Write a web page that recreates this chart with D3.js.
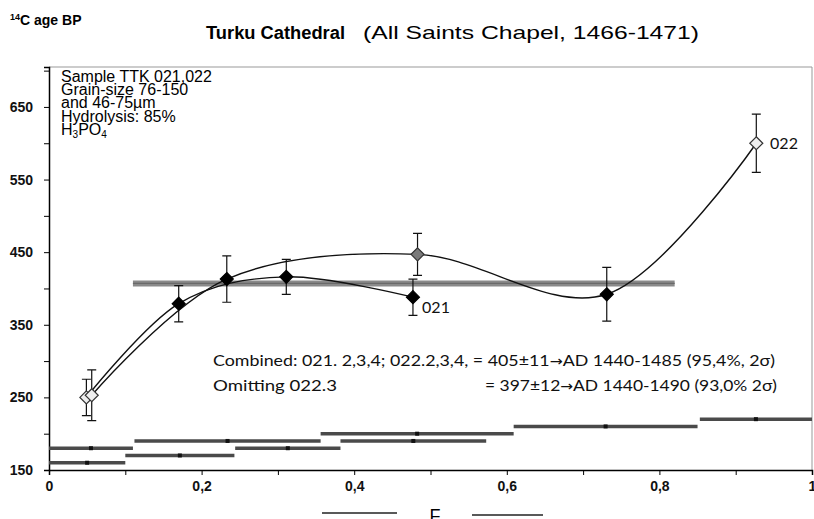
<!DOCTYPE html>
<meta charset="utf-8">
<head>
  <title>Turku Cathedral 14C</title>
  <script type="text/javascript" src="https://d3js.org/d3.v7.min.js"></script>
  <style>
    body { margin: 0; background: #fff; }
    svg { display: block; font-family: "Liberation Sans", Arial, sans-serif; }
    .axis path, .axis line { stroke: #000; }
    .axis text { font-weight: bold; font-size: 14px; fill: #111; }
    .cal { font-family: Lato, "Open Sans", sans-serif; fill: #111; }
  </style>
</head>
<body>
<svg width="814" height="519"></svg>
<script>
// sample 021
var f021 = [0.049, 0.170, 0.311, 0.477];
var age021 = [250, 379, 416, 388];
var err021 = [25, 25, 24, 25];
var fill021 = ["#eee", "#000", "#000", "#000"];
var frac021 = [[0, 0.100], [0.100, 0.243], [0.244, 0.382], [0.382, 0.573]];
var level021 = [160, 170, 180, 190];

// sample 022
var f022 = [0.056, 0.233, 0.483, 0.731, 0.927];
var age022 = [253, 413, 447, 392, 600];
var err022 = [35, 32, 29, 37, 40];
var fill022 = ["#eee", "#000", "#7a7a7a", "#000", "#eee"];
var frac022 = [[0, 0.110], [0.112, 0.356], [0.356, 0.609], [0.609, 0.850], [0.853, 1.0]];
var level022 = [180, 190, 200, 210, 220];

// combined mean line
var combinedAge = 407;
var combinedSpan = [0.11, 0.82];

var yTicks = [150, 200, 250, 300, 350, 400, 450, 500, 550, 600, 650, 700];
var xTicks = [0, 0.1, 0.2, 0.3, 0.4, 0.5, 0.6, 0.7, 0.8, 0.9, 1];
var xTickLabels = ["0", "", "0,2", "", "0,4", "", "0,6", "", "0,8", "", "1"];

var x = d3.scaleLinear().domain([0, 1]).range([49, 812]);
var y = d3.scaleLinear().domain([150, 705]).range([470, 67]);

var svg = d3.select("svg");

// frame (top + right)
svg.append("path")
    .attr("d", "M" + x(0) + "," + y(705) + "H" + x(1) + "V" + y(150))
    .attr("fill", "none").attr("stroke", "#999").attr("stroke-width", 1);

// axes
var yAxis = d3.axisLeft(y).tickValues(yTicks).tickSize(5).tickPadding(11)
    .tickFormat(function(d) { return d % 100 === 50 ? d : ""; });
svg.append("g").attr("class", "axis")
    .attr("transform", "translate(" + x(0) + ",0)")
    .call(yAxis)
    .call(function(g) { g.select(".domain").attr("stroke-width", 1.5); });

var xAxis = d3.axisBottom(x).tickValues(xTicks).tickSize(5).tickPadding(6)
    .tickFormat(function(d, i) { return xTickLabels[i]; });
svg.append("g").attr("class", "axis")
    .attr("transform", "translate(0," + y(150) + ")")
    .call(xAxis)
    .call(function(g) { g.select(".domain").attr("stroke-width", 1.5); });

// combined age band
svg.append("line")
    .attr("x1", x(combinedSpan[0])).attr("x2", x(combinedSpan[1]))
    .attr("y1", y(combinedAge)).attr("y2", y(combinedAge))
    .attr("stroke", "#8a8a8a").attr("stroke-width", 6);
svg.append("line")
    .attr("x1", x(combinedSpan[0])).attr("x2", x(combinedSpan[1]))
    .attr("y1", y(combinedAge)).attr("y2", y(combinedAge))
    .attr("stroke", "#6a6a6a").attr("stroke-width", 1.2);

// fraction bars at the bottom
function fracBars(frac, level) {
  frac.forEach(function(r, i) {
    svg.append("line")
        .attr("x1", x(r[0])).attr("x2", x(r[1]))
        .attr("y1", y(level[i])).attr("y2", y(level[i]))
        .attr("stroke", "#4a4a4a").attr("stroke-width", 3.5);
    svg.append("rect")
        .attr("x", x((r[0] + r[1]) / 2) - 2).attr("y", y(level[i]) - 2)
        .attr("width", 4).attr("height", 4).attr("fill", "#111");
  });
}
fracBars(frac021, level021);
fracBars(frac022, level022);

// smoothed curves
var line = d3.line()
    .x(function(d) { return x(d[0]); })
    .y(function(d) { return y(d[1]); })
    .curve(d3.curveCardinal.tension(0));

svg.append("path")
    .datum(d3.zip(f021, age021))
    .attr("d", line)
    .attr("fill", "none").attr("stroke", "#111").attr("stroke-width", 1.4);
svg.append("path")
    .datum(d3.zip(f022, age022))
    .attr("d", line)
    .attr("fill", "none").attr("stroke", "#111").attr("stroke-width", 1.4);

// error bars + diamonds
function points(fs, ages, errs, fills) {
  fs.forEach(function(f, i) {
    var cx = x(f), lo = y(ages[i] - errs[i]), hi = y(ages[i] + errs[i]);
    svg.append("path")
        .attr("d", "M" + cx + "," + lo + "V" + hi +
                   "M" + (cx - 4.5) + "," + lo + "H" + (cx + 4.5) +
                   "M" + (cx - 4.5) + "," + hi + "H" + (cx + 4.5))
        .attr("fill", "none").attr("stroke", "#111").attr("stroke-width", 1.2);
  });
  fs.forEach(function(f, i) {
    svg.append("path")
        .attr("d", "M0,-6.5L6.5,0L0,6.5L-6.5,0Z")
        .attr("transform", "translate(" + x(f) + "," + y(ages[i]) + ")")
        .attr("fill", fills[i])
        .attr("stroke", fills[i] === "#000" ? "#000" : "#333")
        .attr("stroke-width", 1.2);
  });
}
points(f021, age021, err021, fill021);
points(f022, age022, err022, fill022);

// series labels
svg.append("text").attr("class", "cal").attr("x", 422).attr("y", 313)
    .attr("font-size", 16).attr("textLength", 28).text("021");
svg.append("text").attr("class", "cal").attr("x", 770).attr("y", 149)
    .attr("font-size", 16).attr("textLength", 28).text("022");

// titles
var yl = svg.append("text").attr("x", 10).attr("y", 25)
    .attr("font-weight", "bold").attr("font-size", 14);
yl.append("tspan").attr("font-size", 9).attr("dy", -5).text("14");
yl.append("tspan").attr("dy", 5).text("C age BP");

svg.append("text").attr("x", 206).attr("y", 39)
    .attr("font-weight", "bold").attr("font-size", 18)
    .attr("textLength", 139).attr("lengthAdjust", "spacingAndGlyphs")
    .text("Turku Cathedral");
svg.append("text").attr("x", 363).attr("y", 39)
    .attr("font-size", 19)
    .attr("textLength", 336).attr("lengthAdjust", "spacingAndGlyphs")
    .text("(All Saints Chapel,  1466-1471)");

// sample notes
var notes = ["Sample TTK 021,022", "Grain-size  76-150", "and 46-75\u00b5m", "Hydrolysis: 85%"];
notes.forEach(function(t, i) {
  svg.append("text").attr("x", 61).attr("y", 82 + i * 13.2)
      .attr("font-size", 16).text(t);
});
var h = svg.append("text").attr("x", 61).attr("y", 82 + 4 * 13.2).attr("font-size", 16);
h.append("tspan").text("H");
h.append("tspan").attr("font-size", 10).attr("dy", 3).text("3");
h.append("tspan").attr("dy", -3).text("PO");
h.append("tspan").attr("font-size", 10).attr("dy", 3).text("4");

// combined result text
function resultText(xp, yp, len, parts) {
  var t = svg.append("text").attr("class", "cal").attr("x", xp).attr("y", yp)
      .attr("font-size", 16)
      .attr("textLength", len).attr("lengthAdjust", "spacingAndGlyphs");
  parts.forEach(function(p, i) {
    var s = t.append("tspan").text(p);
    if (i === 1) s.style("font-family", "DejaVu Sans").attr("font-size", 14);
  });
}
resultText(213, 366, 562, ["Combined: 021. 2,3,4; 022.2,3,4, = 405\u00b111", "\u2192", "AD 1440-1485 (95,4%, 2\u03c3)"]);
resultText(213, 391, 124, ["Omitting  022.3"]);
resultText(485, 391, 292, ["= 397\u00b112", "\u2192", "AD 1440-1490 (93,0% 2\u03c3)"]);

// x axis title
svg.append("text").attr("x", 435).attr("y", 522)
    .attr("text-anchor", "middle").attr("font-size", 18).text("F");
svg.append("line").attr("x1", 322).attr("x2", 397).attr("y1", 513).attr("y2", 513)
    .attr("stroke", "#222").attr("stroke-width", 1.5);
svg.append("line").attr("x1", 472).attr("x2", 543).attr("y1", 515).attr("y2", 515)
    .attr("stroke", "#222").attr("stroke-width", 1.5);
</script>
</body>
